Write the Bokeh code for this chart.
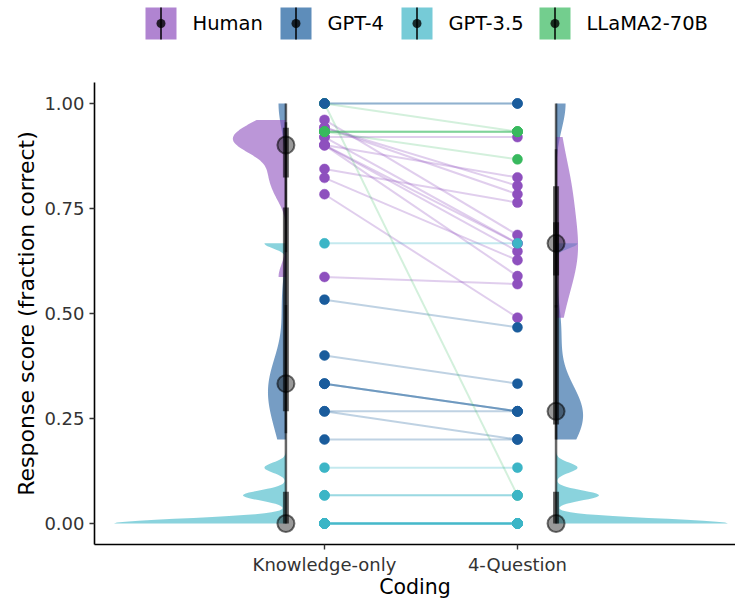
import numpy as np
from bokeh.plotting import figure
from bokeh.layouts import column
from bokeh.models import Range1d, FixedTicker, ColumnDataSource, NumeralTickFormatter
from bokeh.embed import file_html
from bokeh.resources import INLINE
from bokeh.core.properties import value

# ---------------- data ----------------
coding = ["Knowledge-only", "4-Question"]
groups = ["Human", "GPT-4", "GPT-3.5", "LLaMA2-70B"]
yticks = [0.0, 0.25, 0.5, 0.75, 1.0]

# paired scores (Knowledge-only -> 4-Question)
human_ko = [0.961, 0.943, 0.920, 0.920, 0.901, 0.901, 0.901, 0.844, 0.823, 0.784, 0.587, 0.943, 0.901]
human_4q = [0.687, 0.804, 0.920, 0.667, 0.824, 0.648, 0.589, 0.764, 0.627, 0.490, 0.570, 0.784, 0.667]

gpt4_ko = [1.000, 1.000, 0.533, 0.400, 0.333, 0.333, 0.333, 0.267, 0.267, 0.200]
gpt4_4q = [1.000, 1.000, 0.467, 0.333, 0.267, 0.267, 0.267, 0.267, 0.200, 0.200]

gpt35_ko = [0.667, 0.133, 0.067, 0.067, 0.0, 0.0, 0.0, 0.0, 0.0, 0.0, 0.0, 0.0]
gpt35_4q = [0.667, 0.133, 0.067, 0.067, 0.0, 0.0, 0.0, 0.0, 0.0, 0.0, 0.0, 0.0]

llama_ko = [0.933, 0.933, 0.933, 0.933, 0.933, 1.000, 1.000]
llama_4q = [0.933, 0.933, 0.933, 0.933, 0.867, 0.933, 0.067]

data = {
    "Human": (human_ko, human_4q),
    "GPT-4": (gpt4_ko, gpt4_4q),
    "GPT-3.5": (gpt35_ko, gpt35_4q),
    "LLaMA2-70B": (llama_ko, llama_4q),
}

# ---------------- style ----------------
FONT = "DejaVu Sans"
colors = {"Human": "#8E50BE", "GPT-4": "#1A5C9C", "GPT-3.5": "#3CB5C6", "LLaMA2-70B": "#38B95E"}
line_alpha = {"Human": 0.28, "GPT-4": 0.28, "GPT-3.5": 0.3, "LLaMA2-70B": 0.22}
# violin style: (bandwidth, max half-width) for (Knowledge-only, 4-Question)
vio_bw = {"Human": (0.03, 0.075), "GPT-4": (0.06, 0.06), "GPT-3.5": (0.012, 0.012)}
vio_w = {"Human": (0.275, 0.114), "GPT-4": (0.093, 0.14), "GPT-3.5": (0.891, 0.891)}
vio_order = ["GPT-3.5", "GPT-4", "Human"]
vio_center = (0.8, 2.2)
vio_dir = (-1, 1)


def kde(vals, bw, n=300):
    v = np.asarray(vals, dtype=float)
    ys = np.linspace(v.min(), v.max(), n)
    d = np.exp(-0.5 * ((ys[:, None] - v[None, :]) / bw) ** 2).sum(axis=1)
    return ys, d / d.max()


# ---------------- main figure ----------------
p = figure(width=735, height=545, x_range=Range1d(-0.192, 3.13), y_range=Range1d(-0.05, 1.05),
           output_backend="svg", toolbar_location=None,
           min_border_left=94, min_border_right=0, min_border_top=26, min_border_bottom=57)
p.xgrid.visible = False
p.ygrid.visible = False
p.outline_line_color = None
p.background_fill_color = "white"
p.border_fill_color = "white"

# violins
for g in vio_order:
    for side in range(2):
        ys, d = kde(data[g][side], vio_bw[g][side])
        c = vio_center[side]
        x2 = c + vio_dir[side] * vio_w[g][side] * d
        p.harea(y=ys, x1=np.full_like(ys, c), x2=x2, fill_color=colors[g], fill_alpha=0.6)

# connecting lines
for g in groups:
    ko, q4 = data[g]
    src = ColumnDataSource(dict(x0=[1] * len(ko), x1=[2] * len(ko), y0=ko, y1=q4))
    p.segment(x0="x0", y0="y0", x1="x1", y1="y1", source=src,
              line_color=colors[g], line_alpha=line_alpha[g], line_width=2)

# points
for g in ["Human", "LLaMA2-70B", "GPT-3.5", "GPT-4"]:
    ko, q4 = data[g]
    p.scatter(x=[1] * len(ko) + [2] * len(q4), y=list(ko) + list(q4), size=10,
              fill_color=colors[g], line_color=colors[g], line_width=0.5)

# point intervals (median, 66% and 95%)
for g in ["Human", "GPT-4", "GPT-3.5"]:
    for side in range(2):
        v = np.asarray(data[g][side], dtype=float)
        c = vio_center[side]
        lo95, hi95 = np.quantile(v, [0.025, 0.975])
        lo66, hi66 = np.quantile(v, [0.17, 0.83])
        med = np.median(v)
        p.segment(x0=[c], y0=[lo95], x1=[c], y1=[hi95], line_color="black", line_alpha=0.6, line_width=2.5)
        p.segment(x0=[c], y0=[lo66], x1=[c], y1=[hi66], line_color="black", line_alpha=0.6, line_width=6)
        p.scatter(x=[c], y=[med], size=17, fill_color="black", fill_alpha=0.4,
                  line_color="black", line_alpha=0.55, line_width=2)

# axes
p.xaxis.ticker = FixedTicker(ticks=[1, 2])
p.xaxis.major_label_overrides = {1: coding[0], 2: coding[1]}
p.yaxis.ticker = FixedTicker(ticks=yticks)
p.yaxis.formatter = NumeralTickFormatter(format="0.00")
p.xaxis.axis_label = "Coding"
p.yaxis.axis_label = "Response score (fraction correct)"
for ax in (p.xaxis, p.yaxis):
    ax.axis_line_color = "black"
    ax.axis_line_width = 1.6
    ax.major_tick_line_color = "#333333"
    ax.major_tick_line_width = 1.4
    ax.major_tick_out = 5
    ax.major_tick_in = 0
    ax.minor_tick_line_color = None
    ax.major_label_text_font = FONT
    ax.major_label_text_font_size = "18px"
    ax.major_label_text_color = "#333333"
    ax.axis_label_text_font = FONT
    ax.axis_label_text_font_style = "normal"
    ax.axis_label_text_color = "black"
p.xaxis.axis_label_text_font_size = "20.5px"
p.yaxis.axis_label_text_font_size = "22px"
p.xaxis.major_label_standoff = 4
p.yaxis.major_label_standoff = 5
p.xaxis.axis_label_standoff = -3
p.yaxis.axis_label_standoff = 2

# ---------------- legend figure ----------------
lg = figure(width=735, height=56, x_range=Range1d(94, 735), y_range=Range1d(56, 0),
            output_backend="svg", toolbar_location=None,
            min_border_left=94, min_border_right=0, min_border_top=0, min_border_bottom=0,
            x_axis_location=None, y_axis_location=None)
lg.xgrid.visible = False
lg.ygrid.visible = False
lg.outline_line_color = None

key_left = [145, 280, 401, 539]
key_w, key_top, key_bot = 31, 7, 39
for g, kl in zip(groups, key_left):
    lg.quad(left=[kl], right=[kl + key_w], top=[key_top], bottom=[key_bot],
            fill_color=colors[g], fill_alpha=0.7, line_color=None)
    cx = kl + key_w / 2
    lg.segment(x0=[cx], y0=[key_top], x1=[cx], y1=[key_bot], line_color="black", line_alpha=0.75, line_width=2)
    lg.scatter(x=[cx], y=[(key_top + key_bot) / 2], size=9, fill_color="black", fill_alpha=0.8, line_color=None)
    lg.text(x=[kl + key_w + 16], y=[(key_top + key_bot) / 2], text=[g], text_baseline="middle",
            text_align="left", text_font=value(FONT), text_font_size="19.5px", text_color="black")

layout = column(lg, p, spacing=0)
open("out.html", "w").write(file_html(layout, INLINE))
